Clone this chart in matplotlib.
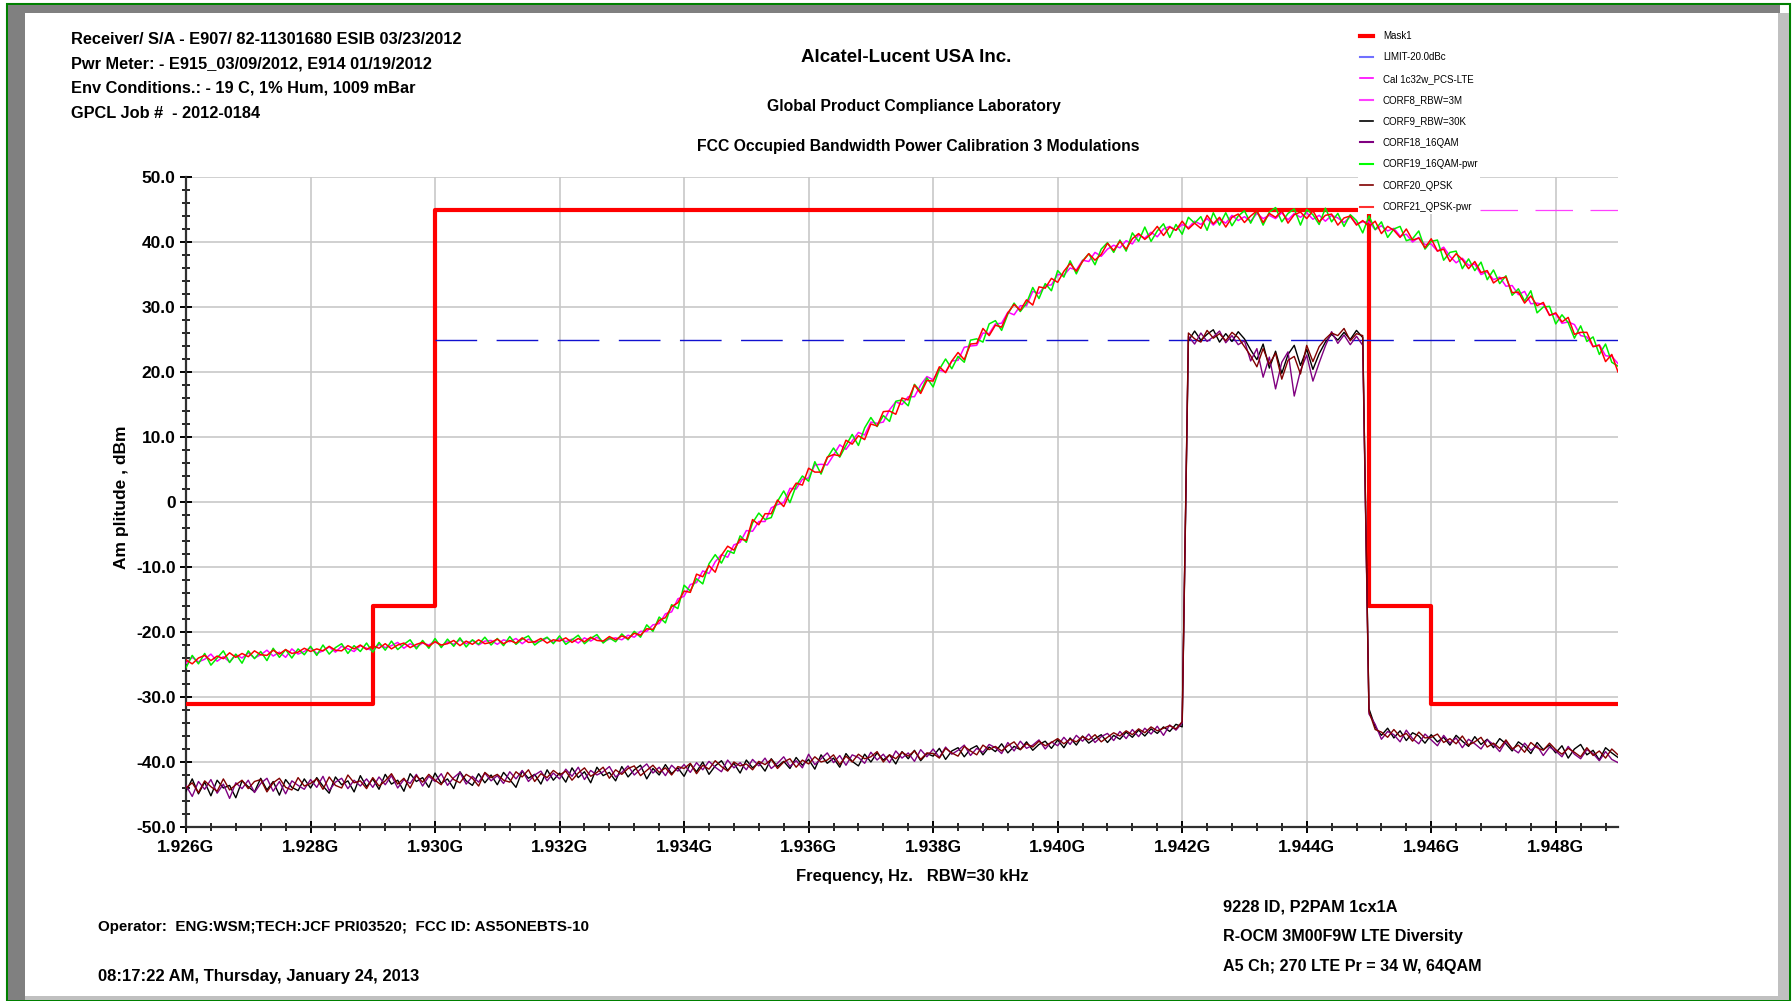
import numpy as np
import matplotlib
matplotlib.use('Agg')
import matplotlib.pyplot as plt
from matplotlib.patches import Rectangle
from matplotlib import font_manager

# sweep grid, MHz (0.1 MHz steps)
freq_mhz = np.round(np.arange(1926.0, 1949.05, 0.1), 1)

# wide (RBW=3M) traces, dBm
corf21_qpsk_pwr = [
    -24.3, -24.9, -24.0, -23.6, -24.4, -23.7, -24.1, -23.2, -23.9, -23.3,
    -23.8, -22.9, -23.5, -23.6, -22.8, -23.4, -22.7, -23.3, -23.1, -22.5,
    -23.0, -22.6, -22.9, -22.2, -22.8, -22.9, -22.1, -22.6, -22.0, -22.7,
    -22.1, -22.5, -21.8, -22.6, -22.0, -21.7, -22.4, -21.9, -21.6, -22.2,
    -21.5, -22.0, -21.8, -21.3, -22.1, -21.4, -21.9, -21.2, -21.8, -21.6,
    -21.1, -21.8, -21.3, -21.7, -20.9, -21.6, -21.5, -21.0, -21.7, -21.2,
    -21.4, -20.9, -21.6, -21.0, -21.5, -20.8, -21.3, -21.4, -20.7, -21.2,
    -20.6, -21.0, -20.2, -20.5, -19.5, -19.6, -18.2, -17.8, -16.1, -15.5,
    -13.7, -13.9, -11.1, -11.5, -9.8, -10.8, -8.2, -6.8, -7.4, -5.7,
    -5.9, -2.7, -3.5, -1.8, -1.8, 0.3, -0.7, 1.4, 2.9, 2.6,
    5.2, 4.6, 4.6, 6.9, 7.3, 7.1, 9.5, 8.9, 10.2, 9.6,
    12.0, 11.7, 13.9, 14.0, 13.5, 16.0, 15.7, 18.0, 16.7, 18.7,
    18.6, 20.8, 19.9, 21.7, 23.0, 21.9, 24.3, 24.4, 26.7, 25.6,
    27.2, 26.9, 29.1, 30.4, 29.5, 31.1, 30.3, 33.1, 32.9, 34.4,
    33.8, 35.5, 36.7, 35.5, 37.0, 38.2, 37.2, 38.1, 39.8, 38.7,
    40.1, 38.9, 40.5, 41.3, 40.4, 41.2, 42.4, 41.0, 42.3, 41.8,
    43.2, 42.0, 42.9, 42.1, 44.1, 42.8, 43.8, 42.3, 43.8, 44.3,
    43.0, 44.0, 44.8, 43.0, 44.4, 43.8, 44.8, 42.9, 44.2, 44.6,
    43.6, 44.8, 43.1, 44.1, 44.3, 42.6, 43.7, 44.0, 42.6, 43.3,
    42.4, 43.2, 41.3, 42.4, 41.8, 40.7, 42.0, 40.3, 40.6, 39.1,
    40.5, 38.6, 38.9, 37.0, 38.2, 37.3, 35.9, 37.0, 35.3, 35.6,
    33.7, 34.4, 34.6, 32.2, 32.3, 30.6, 31.7, 30.2, 30.7, 28.7,
    29.1, 27.7, 28.4, 25.8, 26.1, 26.1, 23.9, 24.1, 21.6, 22.7,
    20.0]

corf8_rbw3m = [
    -24.8, -23.9, -24.6, -24.2, -23.4, -24.5, -23.8, -24.6, -23.5, -24.0,
    -23.2, -24.0, -23.5, -22.8, -23.7, -23.1, -23.9, -22.6, -23.4, -23.0,
    -22.4, -23.3, -22.9, -22.3, -23.1, -22.2, -22.6, -23.0, -22.1, -22.5,
    -22.9, -21.9, -22.4, -22.1, -21.6, -22.5, -21.8, -22.3, -21.7, -22.0,
    -21.4, -22.2, -21.5, -21.9, -21.2, -21.8, -21.3, -22.0, -21.4, -21.3,
    -21.9, -21.2, -21.5, -21.0, -21.8, -21.1, -21.6, -21.4, -20.9, -21.6,
    -21.0, -21.5, -21.1, -21.7, -20.9, -21.4, -20.8, -21.5, -21.1, -20.9,
    -21.2, -20.5, -20.8, -19.9, -19.9, -18.9, -18.7, -17.2, -16.9, -14.9,
    -14.5, -12.7, -12.4, -10.6, -11.0, -9.2, -8.1, -8.5, -6.6, -6.2,
    -4.4, -4.5, -3.0, -3.0, -0.9, -0.4, -0.1, 2.1, 2.0, 3.5,
    3.7, 5.7, 5.8, 5.7, 7.2, 8.8, 8.1, 9.4, 10.7, 10.3,
    12.3, 12.1, 12.3, 14.2, 15.4, 15.0, 16.2, 16.2, 18.0, 19.3,
    18.8, 20.3, 20.0, 21.7, 21.8, 23.8, 24.0, 24.1, 26.0, 25.9,
    27.4, 27.5, 29.2, 28.8, 30.2, 30.2, 32.4, 32.1, 33.3, 33.4,
    35.0, 34.9, 36.0, 35.7, 37.2, 37.0, 38.4, 37.8, 38.9, 39.5,
    39.1, 40.2, 39.7, 41.1, 40.6, 41.5, 40.8, 42.0, 42.4, 41.8,
    42.7, 42.2, 43.2, 42.7, 43.6, 42.6, 43.5, 42.9, 44.1, 43.3,
    43.9, 43.2, 44.4, 43.6, 44.1, 43.6, 44.5, 43.4, 44.4, 43.8,
    44.5, 43.5, 44.1, 43.2, 44.1, 43.7, 43.0, 43.9, 42.8, 43.1,
    43.1, 41.9, 42.5, 41.7, 42.1, 40.9, 41.2, 40.0, 40.7, 39.6,
    39.7, 38.6, 39.2, 37.8, 36.8, 37.5, 36.4, 36.6, 35.0, 35.4,
    34.2, 34.6, 33.2, 33.3, 31.9, 32.4, 30.5, 30.6, 30.4, 28.8,
    28.9, 27.5, 27.7, 27.3, 25.6, 25.4, 23.9, 24.2, 22.5, 22.4,
    21.3]

corf19_16qam_pwr = [
    -25.5, -23.6, -24.9, -23.3, -25.1, -24.0, -22.9, -24.7, -23.4, -24.8,
    -22.9, -24.1, -23.0, -24.4, -22.5, -23.9, -22.7, -24.0, -22.6, -23.5,
    -22.2, -23.6, -22.0, -23.4, -22.4, -21.8, -23.3, -22.1, -23.0, -21.7,
    -23.1, -21.6, -22.8, -21.4, -22.7, -21.9, -21.2, -22.6, -21.3, -22.5,
    -21.0, -22.4, -21.1, -22.2, -20.9, -22.3, -21.2, -21.9, -20.8, -22.0,
    -21.0, -22.1, -20.7, -21.9, -21.1, -20.6, -22.0, -21.3, -20.8, -21.8,
    -20.6, -21.9, -21.2, -20.5, -21.8, -21.0, -20.4, -21.7, -20.9, -21.5,
    -20.3, -21.2, -19.9, -20.8, -18.9, -19.9, -17.7, -18.6, -15.8, -16.4,
    -12.8, -13.7, -11.8, -12.6, -9.5, -8.1, -9.4, -7.5, -7.9, -5.2,
    -6.2, -3.2, -1.7, -2.7, -2.4, 0.1, 1.7, -0.1, 2.5, 4.0,
    3.2, 6.2, 4.3, 6.8, 8.3, 6.9, 8.7, 10.4, 8.7, 11.4,
    13.0, 11.6, 13.3, 12.4, 15.5, 15.7, 14.8, 18.1, 17.0, 19.1,
    17.7, 20.4, 22.0, 20.5, 22.4, 21.5, 24.9, 25.1, 24.6, 27.4,
    27.9, 26.4, 28.9, 30.6, 29.3, 30.6, 33.0, 31.3, 33.6, 32.5,
    35.6, 34.6, 37.1, 35.1, 37.1, 38.2, 36.5, 38.9, 39.9, 38.4,
    40.3, 38.6, 41.4, 40.1, 42.3, 40.1, 41.7, 42.8, 40.7, 42.7,
    41.2, 43.8, 42.9, 43.9, 41.8, 44.5, 42.6, 44.5, 42.5, 44.0,
    44.8, 42.9, 44.8, 42.6, 44.6, 45.3, 43.1, 44.4, 45.1, 42.6,
    45.0, 44.2, 42.7, 45.2, 43.1, 44.4, 42.4, 44.2, 43.3, 41.4,
    44.0, 41.9, 43.1, 40.7, 42.0, 42.4, 40.2, 40.5, 41.7, 38.9,
    40.1, 40.3, 37.2, 38.4, 38.6, 35.9, 37.4, 35.6, 36.9, 34.2,
    35.7, 33.6, 34.8, 31.8, 32.8, 30.9, 32.5, 29.1, 30.0, 30.1,
    27.4, 28.8, 27.6, 25.2, 27.1, 24.7, 25.4, 22.7, 24.3, 21.5,
    20.9]

# narrow (RBW=30K) traces, dBm
corf9_rbw30k = [
    -44.5, -42.6, -44.9, -43.1, -45.2, -42.8, -44.0, -43.6, -45.5, -42.9,
    -43.8, -44.6, -42.5, -44.3, -43.0, -45.1, -42.7, -43.9, -44.4, -42.6,
    -44.0, -42.4, -43.7, -44.8, -42.3, -43.5, -42.9, -44.6, -42.1, -43.8,
    -42.6, -44.2, -41.9, -43.4, -42.8, -44.5, -41.8, -43.0, -42.4, -43.9,
    -41.7, -43.3, -42.6, -44.1, -41.5, -42.9, -43.6, -41.8, -43.2, -42.0,
    -43.5, -41.6, -42.7, -43.9, -41.4, -42.5, -41.9, -43.4, -41.2, -42.8,
    -41.7, -43.1, -40.9, -42.4, -41.5, -43.2, -40.8, -42.1, -41.6, -42.9,
    -40.7, -42.3, -41.2, -40.5, -42.6, -41.0, -42.0, -40.4, -41.8, -40.9,
    -42.2, -40.3, -41.5, -40.0, -41.9, -40.6, -39.8, -41.3, -40.2, -41.7,
    -39.7, -40.9, -40.1, -41.4, -39.5, -40.7, -39.9, -41.0, -39.3, -40.5,
    -39.6, -41.1, -38.9, -40.2, -39.4, -40.8, -38.7, -39.9, -40.6, -38.8,
    -40.0, -38.6, -39.7, -38.9, -40.3, -38.4, -39.5, -38.2, -39.8, -38.7,
    -39.1, -37.9, -39.6, -38.3, -37.8, -39.2, -38.0, -37.5, -38.9, -37.7,
    -38.4, -37.2, -38.6, -37.6, -38.1, -36.9, -38.2, -37.3, -36.8, -37.9,
    -36.6, -37.8, -36.3, -37.4, -36.0, -37.1, -36.4, -35.8, -37.0, -35.9,
    -36.5, -35.4, -36.2, -35.1, -36.0, -34.9, -35.6, -34.6, -35.3, -34.2,
    -34.6, 24.8, 26.3, 24.9, 25.8, 26.5, 24.6, 25.9, 24.7, 26.2,
    25.1, 23.4, 21.9, 24.3, 20.6, 23.2, 19.8, 22.7, 24.1, 21.0,
    23.5, 20.4, 22.8, 24.6, 25.8, 24.9, 26.1, 25.0, 26.4, 25.3,
    -31.8, -34.6, -35.9, -34.8, -36.3, -35.2, -36.7, -35.5, -36.0, -37.1,
    -35.8, -36.9, -36.2, -37.4, -35.9, -36.8, -37.6, -36.1, -37.3, -36.5,
    -37.8, -36.4, -37.2, -38.3, -36.9, -37.6, -38.7, -37.0, -38.1, -37.4,
    -38.6, -37.5, -39.4, -38.0, -37.3, -38.9, -38.2, -39.7, -37.8, -38.6,
    -39.3]

corf18_16qam = [
    -43.6, -45.3, -43.0, -44.2, -42.7, -44.8, -43.4, -45.6, -43.2, -44.1,
    -42.8, -44.7, -43.3, -42.5, -44.5, -43.0, -44.9, -42.9, -43.6, -44.2,
    -42.7, -43.9, -42.2, -44.4, -43.1, -42.5, -44.1, -42.8, -43.7, -42.6,
    -43.9, -42.3, -43.5, -42.1, -44.0, -42.7, -43.3, -41.9, -43.7, -42.2,
    -43.0, -41.8, -43.6, -42.4, -41.6, -43.4, -42.2, -43.1, -41.7, -42.9,
    -42.1, -43.3, -41.5, -42.6, -41.3, -43.0, -42.0, -41.4, -42.9, -41.7,
    -42.6, -41.1, -42.2, -40.8, -42.7, -41.3, -42.0, -41.5, -40.7, -42.3,
    -41.6, -40.6, -42.0, -41.1, -40.3, -41.7, -40.8, -42.1, -40.5, -41.4,
    -40.4, -41.6, -40.1, -41.2, -39.9, -40.8, -41.5, -39.7, -40.9, -40.1,
    -41.2, -39.6, -40.6, -39.4, -41.0, -40.2, -39.2, -40.7, -39.8, -40.9,
    -38.8, -40.4, -39.5, -38.6, -40.1, -39.0, -40.5, -38.9, -39.3, -40.2,
    -38.5, -39.7, -38.8, -40.1, -38.3, -39.4, -38.6, -39.9, -38.1, -39.2,
    -38.0, -39.3, -37.7, -38.8, -38.2, -37.4, -39.0, -37.9, -38.5, -37.3,
    -37.8, -38.7, -37.0, -38.3, -36.8, -37.9, -37.4, -36.6, -38.0, -36.9,
    -37.5, -36.2, -37.3, -35.9, -36.8, -35.7, -37.0, -36.1, -35.6, -36.7,
    -35.3, -36.4, -35.0, -36.1, -34.8, -35.7, -34.5, -35.9, -34.3, -35.1,
    -34.0, 25.5, 24.3, 26.0, 24.7, 25.4, 26.3, 24.5, 25.6, 24.2,
    24.8, 21.7, 23.6, 19.2, 22.3, 17.4, 21.5, 23.1, 16.3, 20.2,
    22.6, 18.6, 21.4, 24.0, 26.2, 24.4, 25.7, 24.2, 25.5, 24.1,
    -32.6, -34.2, -36.5, -35.3, -35.8, -36.9, -35.1, -36.4, -37.2, -35.7,
    -36.6, -37.5, -35.9, -37.1, -36.3, -37.8, -36.5, -37.2, -38.0, -36.6,
    -37.3, -38.4, -36.8, -37.9, -38.6, -37.1, -38.2, -37.5, -39.0, -37.7,
    -38.3, -39.2, -37.6, -38.8, -39.5, -38.1, -38.7, -39.8, -38.4, -39.6,
    -40.1]

corf20_qpsk = [
    -44.0, -43.2, -44.7, -42.9, -43.8, -44.5, -42.6, -44.3, -43.5, -42.8,
    -44.1, -43.0, -42.7, -44.6, -43.2, -42.5, -43.9, -44.3, -42.4, -43.7,
    -43.3, -42.6, -44.2, -42.3, -43.6, -44.0, -42.0, -43.2, -42.9, -44.1,
    -42.4, -43.7, -42.9, -41.8, -43.4, -42.5, -44.0, -42.1, -43.1, -41.9,
    -42.8, -43.5, -41.6, -42.7, -43.2, -41.9, -42.5, -43.7, -41.6, -42.4,
    -41.9, -42.8, -43.1, -41.5, -42.3, -41.2, -43.0, -41.8, -42.4, -41.3,
    -42.0, -41.4, -42.8, -41.7, -40.9, -42.2, -41.6, -40.8, -42.5, -41.2,
    -41.9, -41.0, -40.6, -42.1, -41.3, -40.5, -41.6, -40.9, -42.0, -40.7,
    -41.0, -40.2, -41.8, -40.5, -41.1, -39.8, -40.7, -41.4, -40.0, -40.6,
    -40.3, -41.2, -39.9, -40.4, -39.6, -41.0, -40.0, -39.5, -40.8, -39.7,
    -40.3, -39.2, -40.0, -39.7, -38.9, -40.4, -39.1, -40.0, -38.8, -39.5,
    -39.2, -38.4, -40.0, -38.9, -39.5, -38.5, -39.1, -38.3, -39.6, -38.6,
    -38.7, -39.4, -37.9, -38.6, -39.1, -37.6, -38.3, -38.9, -37.4, -38.1,
    -37.6, -38.3, -37.5, -36.9, -38.1, -37.2, -37.7, -36.8, -37.5, -37.0,
    -36.4, -37.2, -36.5, -36.9, -36.1, -36.6, -35.8, -36.9, -36.2, -35.5,
    -36.0, -35.2, -35.8, -34.9, -35.5, -34.6, -35.2, -34.8, -34.4, -34.9,
    -33.8, 26.0, 25.1, 24.6, 26.4, 25.2, 25.9, 24.8, 26.1, 25.3,
    23.9, 22.5, 20.8, 23.6, 21.2, 22.9, 18.9, 21.8, 22.4, 19.7,
    24.1, 21.6, 23.9, 25.1, 26.0, 25.6, 26.7, 24.8, 25.9, 25.6,
    -32.2, -35.0, -35.4, -36.2, -35.0, -36.1, -35.6, -36.8, -35.4, -36.3,
    -36.2, -35.7, -37.0, -36.4, -37.2, -36.0, -37.4, -36.9, -36.2, -37.7,
    -37.1, -37.9, -36.6, -38.0, -37.4, -38.5, -37.0, -37.8, -38.2, -37.1,
    -38.1, -38.8, -37.9, -38.5, -39.2, -37.8, -39.0, -38.3, -39.4, -38.0,
    -38.9]

# mask breakpoints (MHz) and levels (dBm), step-post
mask_edges = [1926, 1929, 1930, 1945, 1946, 1949]
mask_levels = [-31, -16, 45, -16, -31, -31]
limit_freq = [1930, 1949]
limit_level = [25, 25]
cal_freq = [1930, 1949]
cal_level = [45, 45]

xticks_mhz = [1926, 1928, 1930, 1932, 1934, 1936, 1938, 1940, 1942, 1944, 1946, 1948]
xtick_labels = ['1.926G', '1.928G', '1.930G', '1.932G', '1.934G', '1.936G',
                '1.938G', '1.940G', '1.942G', '1.944G', '1.946G', '1.948G']
yticks = [50, 40, 30, 20, 10, 0, -10, -20, -30, -40, -50]
ytick_labels = ['50.0', '40.0', '30.0', '20.0', '10.0', '0', '-10.0',
                '-20.0', '-30.0', '-40.0', '-50.0']

names = [f.name for f in font_manager.fontManager.ttflist]
narrow = 'Liberation Sans Narrow' if 'Liberation Sans Narrow' in names else 'Liberation Sans'
plt.rcParams['font.family'] = [narrow, 'Liberation Sans', 'DejaVu Sans']
plt.rcParams['font.weight'] = 'bold'

W, H = 1792, 1001
fig = plt.figure(figsize=(W / 100, H / 100), dpi=100)
ax = fig.add_axes([186 / W, 1 - 827 / H, (1618 - 186) / W, (827 - 177) / H])


def fx(x):
    return x / W


def fy(y):
    return 1 - y / H


# window frame
fig.add_artist(Rectangle((fx(7), fy(1000)), fx(1783), 996 / H, transform=fig.transFigure,
                         facecolor='none', edgecolor='#008000', lw=1.5))
fig.add_artist(Rectangle((fx(8), fy(13)), fx(1772), 8 / H, transform=fig.transFigure,
                         facecolor='#808080', edgecolor='none'))
fig.add_artist(Rectangle((fx(8), fy(1000)), fx(17), 995 / H, transform=fig.transFigure,
                         facecolor='#808080', edgecolor='none'))
fig.add_artist(Rectangle((fx(1778), fy(1000)), fx(11), 987 / H, transform=fig.transFigure,
                         facecolor='#c0c0c0', edgecolor='none'))
fig.add_artist(Rectangle((fx(25), fy(1000)), fx(1764), 4 / H, transform=fig.transFigure,
                         facecolor='#c0c0c0', edgecolor='none'))

f = freq_mhz
ax.plot(cal_freq, cal_level, color='#ff40ff', lw=0.9, dashes=(30, 14), zorder=2)
ax.step(mask_edges, mask_levels, where='post', color='#ff0000', lw=3.0, zorder=3)
ax.plot(limit_freq, limit_level, color='#1010d0', lw=1.0, dashes=(30, 14), zorder=3)
ax.plot(f, corf9_rbw30k, color='black', lw=1.0, zorder=4)
ax.plot(f, corf18_16qam, color='#800080', lw=1.0, zorder=4)
ax.plot(f, corf20_qpsk, color='#800000', lw=1.0, zorder=4)
ax.plot(f, corf8_rbw3m, color='#ff00ff', lw=1.1, zorder=4)
ax.plot(f, corf19_16qam_pwr, color='#00ee00', lw=1.1, zorder=4)
ax.plot(f, corf21_qpsk_pwr, color='#ff0000', lw=1.1, zorder=5)

ax.set_xlim(1926, 1949)
ax.set_ylim(-50, 50)
ax.set_xticks(xticks_mhz)
ax.set_xticklabels(xtick_labels)
ax.set_xticks(np.arange(1926, 1949.01, 0.4), minor=True)
ax.set_yticks(yticks)
ax.set_yticklabels(ytick_labels)
ax.set_yticks(np.arange(-50, 50.1, 2), minor=True)
ax.grid(True, which='major', color='#c8c8c8', lw=1.2)
ax.set_axisbelow(True)
for s in ['top', 'right']:
    ax.spines[s].set_visible(False)
for s in ['left', 'bottom']:
    ax.spines[s].set_color('#303030')
    ax.spines[s].set_linewidth(1.6)
ax.tick_params(which='major', direction='inout', length=9, width=1.4, labelsize=12.5, pad=3)
ax.tick_params(which='minor', direction='inout', length=6, width=1.2)
ax.tick_params(axis='x', which='major', pad=5)

ax.set_xlabel('Frequency, Hz.   RBW=30 kHz', fontsize=12, fontweight='bold')
ax.xaxis.set_label_coords(0.507, -0.065)
ax.set_ylabel('Am plitude , dBm', fontsize=12.5, fontweight='bold')
ax.yaxis.set_label_coords(-0.04, 0.508)

# header text
hdr = 11.8
fig.text(fx(71), fy(39), 'Receiver/ S/A - E907/ 82-11301680 ESIB 03/23/2012', fontsize=hdr, va='center')
fig.text(fx(71), fy(64), 'Pwr Meter: - E915_03/09/2012, E914 01/19/2012', fontsize=hdr, va='center')
fig.text(fx(71), fy(88), 'Env Conditions.: - 19 C, 1% Hum, 1009 mBar', fontsize=hdr, va='center')
fig.text(fx(71), fy(113), 'GPCL Job #  - 2012-0184', fontsize=hdr, va='center')
fig.text(fx(906), fy(58), 'Alcatel-Lucent USA Inc.', fontsize=13.5, ha='center', va='center')
fig.text(fx(914), fy(107), 'Global Product Compliance Laboratory', fontsize=11.3, ha='center', va='center')
fig.text(fx(918), fy(147), 'FCC Occupied Bandwidth Power Calibration 3 Modulations', fontsize=11.3,
         ha='center', va='center')

# footer text
fig.text(fx(98), fy(927), 'Operator:  ENG:WSM;TECH:JCF PRI03520;  FCC ID: AS5ONEBTS-10', fontsize=10.9, va='center')
fig.text(fx(98), fy(977), '08:17:22 AM, Thursday, January 24, 2013', fontsize=12, va='center')
fig.text(fx(1223), fy(907), '9228 ID, P2PAM 1cx1A', fontsize=11.8, va='center')
fig.text(fx(1223), fy(937), 'R-OCM 3M00F9W LTE Diversity', fontsize=11.6, va='center')
fig.text(fx(1223), fy(967), 'A5 Ch; 270 LTE Pr = 34 W, 64QAM', fontsize=11.6, va='center')

# legend handles (legend colours differ slightly from plotted lines)
handles = [
    plt.Line2D([], [], color='#ff0000', lw=3),
    plt.Line2D([], [], color='#7070ff', lw=1.5),
    plt.Line2D([], [], color='#ff00ff', lw=1.2),
    plt.Line2D([], [], color='#ff40ff', lw=1.5),
    plt.Line2D([], [], color='black', lw=1.2),
    plt.Line2D([], [], color='#800080', lw=1.5),
    plt.Line2D([], [], color='#00ff00', lw=1.5),
    plt.Line2D([], [], color='#800000', lw=1.2),
    plt.Line2D([], [], color='#ff3030', lw=1.5),
]
labels = ['Mask1', 'LIMIT-20.0dBc', 'Cal 1c32w_PCS-LTE', 'CORF8_RBW=3M', 'CORF9_RBW=30K',
          'CORF18_16QAM', 'CORF19_16QAM-pwr', 'CORF20_QPSK', 'CORF21_QPSK-pwr']
fig.legend(handles, labels, loc='upper left', bbox_to_anchor=(fx(1358), fy(29)),
           frameon=True, fancybox=False, edgecolor='none', facecolor='white', framealpha=1,
           prop={'family': narrow, 'size': 7, 'weight': 'normal'},
           handlelength=1.3, handletextpad=1.05, labelspacing=1.17,
           borderpad=0.2, borderaxespad=0)

fig.savefig('out.png', dpi=100)
